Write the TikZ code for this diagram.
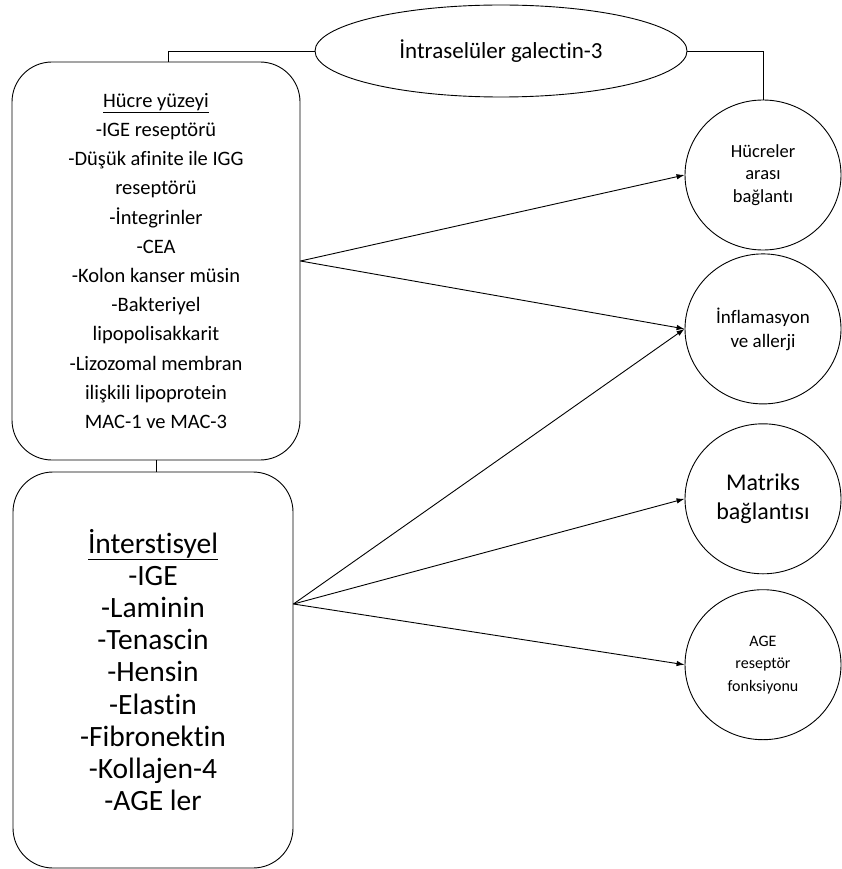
\documentclass[tikz,border=0pt]{standalone}
\usepackage{fontspec}
\setmainfont{Carlito}[Ligatures=NoCommon]
\usetikzlibrary{positioning, arrows.meta, shapes.geometric}

\begin{document}
\begin{tikzpicture}[x=1pt, y=-1pt, >={Latex[length=8pt,width=5.5pt]}, line width=0.9pt,
      node distance=3pt,
      box/.style={draw, rounded corners=40pt, align=center, inner sep=0pt},
      oval/.style={draw, ellipse, align=center, inner sep=0pt,
        minimum width=156pt, minimum height=150pt}]
    \useasboundingbox (0,0) rectangle (842,869);

    \node[draw, ellipse, minimum width=372pt, minimum height=92pt,
      font=\fontsize{23}{27}\selectfont] (intra) at (501,51) {İntraselüler galectin-3};

    \node[box, minimum width=288pt, minimum height=398pt,
      font=\fontsize{20.5}{29.2}\selectfont] (surf) at (156,261)
      {\underline{Hücre yüzeyi}\\-IGE reseptörü\\-Düşük afinite ile IGG\\reseptörü\\
       -İntegrinler\\-CEA\\-Kolon kanser müsin\\-Bakteriyel\\lipopolisakkarit\\
       -Lizozomal membran\\ilişkili lipoprotein\\MAC-1 ve MAC-3};
    \node[box, minimum width=280pt, minimum height=396pt,
      font=\fontsize{29.5}{32.2}\selectfont] (inter) at (153,670)
      {\underline{İnterstisyel}\\-IGE\\-Laminin\\-Tenascin\\-Hensin\\-Elastin\\
       -Fibronektin\\-Kollajen-4\\-AGE ler};

    \node[oval, font=\fontsize{18.5}{22.5}\selectfont] (cell) at (763,175) {Hücreler\\arası\\bağlantı};
    \node[oval, font=\fontsize{19}{24}\selectfont] (infl) [below=3pt of cell] {İnflamasyon\\ve allerji};
    \node[oval, font=\fontsize{24}{28.5}\selectfont] (matr) [below=19pt of infl] {Matriks\\bağlantısı};
    \node[oval, font=\fontsize{16}{22.5}\selectfont] (age) [below=15pt of matr] {AGE\\reseptör\\fonksiyonu};

    % plain links
    \draw (intra.west) -| ([xshift=12pt]surf.north);
    \draw (intra.east) -| (cell.north);
    \draw (surf.south) -- (surf.south |- inter.north);

    % arrows
    \coordinate (hub) at ([yshift=66pt]inter.east);
    \path[->] (surf.east) edge (cell.west)
              (surf.east) edge (infl.west)
              (hub) edge (infl.west)
              (hub) edge (matr.west)
              (hub) edge (age.west);
\end{tikzpicture}
\end{document}
